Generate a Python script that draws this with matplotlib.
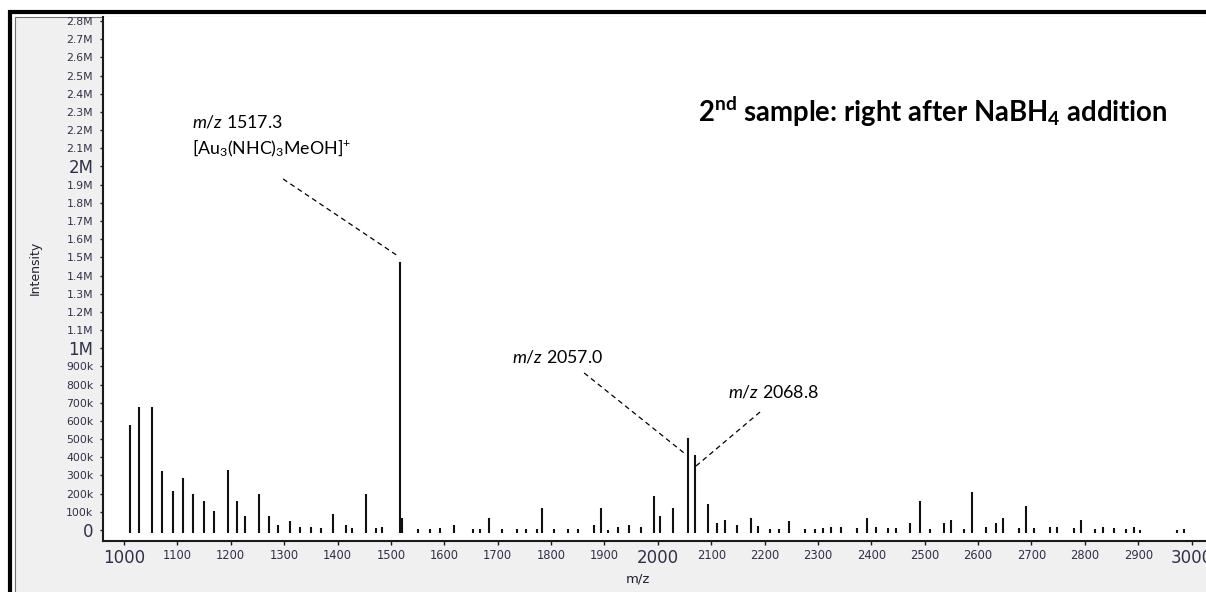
import matplotlib
matplotlib.use("Agg")
import matplotlib.pyplot as plt
from matplotlib.patches import Rectangle
from matplotlib.transforms import Bbox
import numpy as np

plt.rcParams['mathtext.fontset'] = 'custom'
plt.rcParams['mathtext.rm'] = 'Lato'
plt.rcParams['mathtext.it'] = 'Lato:italic'
plt.rcParams['mathtext.bf'] = 'Lato:bold'

# peak list: m/z and intensity (in thousands)
mz = [1011, 1027.5, 1053, 1072, 1092, 1110.5, 1130, 1150, 1169, 1195.5,
      1211, 1227, 1253, 1272, 1289, 1311.5, 1330, 1350, 1369.5, 1392,
      1415, 1428, 1454, 1473, 1483, 1517.3, 1521, 1551, 1573, 1592.5,
      1619, 1654, 1667, 1684, 1709, 1735.5, 1754, 1773, 1783.5, 1806,
      1831, 1851, 1880.5, 1894, 1906, 1926, 1946, 1968, 1993.5, 2003.5,
      2029, 2057.0, 2068.8, 2094.5, 2110, 2126.5, 2149, 2175, 2188, 2211,
      2226.5, 2246.5, 2275, 2294.5, 2310, 2324, 2343, 2372.5, 2392, 2408,
      2430.5, 2447, 2472.5, 2492, 2509.5, 2536.5, 2550, 2573, 2589, 2615,
      2634, 2647, 2676, 2689, 2705, 2734, 2748, 2780, 2793, 2818.5,
      2834.5, 2854, 2876.5, 2892.5, 2903, 2973, 2986.5]
intensity_k = [580, 675, 675, 322, 216, 285, 200, 161, 105, 332,
               161, 75, 200, 75, 30, 47, 19, 19, 9, 86,
               30, 9, 200, 9, 19, 1475, 64, 3, 3, 9,
               28, 3, 3, 64, 3, 3, 5, 3, 123, 3,
               3, 3, 28, 123, 2, 19, 28, 19, 189, 75,
               123, 505, 410, 143, 39, 57, 30, 66, 20, 3,
               3, 47, 3, 3, 9, 19, 19, 9, 66, 19,
               9, 9, 39, 161, 3, 39, 57, 3, 210, 19,
               39, 66, 9, 133, 9, 19, 19, 9, 57, 3,
               19, 9, 3, 19, 1, 2, 3]

yticks = np.arange(0, 2.85e6, 1e5)
xticks = np.arange(1000, 3001, 100)

def ylab(v):
    if v == 0:
        return "0"
    if v < 1e6:
        return "%dk" % round(v / 1e3)
    m = v / 1e6
    return "%dM" % round(m) if abs(m - round(m)) < 1e-6 else "%.1fM" % m

ylabels = [ylab(v) for v in yticks]
xlabels = [str(v) for v in xticks]
big_labels = ["0", "1M", "2M", "1000", "2000", "3000"]

W, H = 1206, 592
fig = plt.figure(figsize=(W / 100, H / 100), dpi=100)
fig.patch.set_facecolor("white")

# window frame, kept behind the axes
fig.patches.append(Rectangle((9.5 / W, -0.1), 1.2, 1 - 11.5 / H + 0.1,
                             transform=fig.transFigure, fill=False,
                             edgecolor="black", lw=3, zorder=-2))
fig.patches.append(Rectangle((15 / W, -0.1), 1.2, 1 - 17 / H + 0.1,
                             transform=fig.transFigure, facecolor="#f0f0f0",
                             edgecolor="#707070", lw=0.8, zorder=-1))

ax = fig.add_axes([103 / W, 51 / H, 1 - 103 / W + 0.01, (541 - 17) / H])
ax.set_facecolor("white")

inten = np.array(intensity_k) * 1e3
ax.vlines(mz, -16500, inten, colors="#111111", lw=1.5)

ax.set_xlim(960.7, 3049.5)
ax.set_ylim(-60500, 2.822e6)

for s in ["top", "right"]:
    ax.spines[s].set_visible(False)
for s in ["left", "bottom"]:
    ax.spines[s].set_linewidth(1.5)
    ax.spines[s].set_color("#1a1a1a")

lab_color = "#30304a"
ax.set_yticks(yticks)
ax.set_yticklabels(ylabels, fontsize=7.8, color=lab_color)
ax.set_xticks(xticks)
ax.set_xticklabels(xlabels, fontsize=8.3, color=lab_color)
ax.tick_params(axis="y", length=2, width=1, pad=5, colors="#1a1a1a", labelcolor=lab_color)
ax.tick_params(axis="x", length=3, width=1, pad=3, colors="#1a1a1a", labelcolor=lab_color)

clip = Bbox.from_extents(0, 0, W, H - 17)
for t in ax.get_yticklabels() + ax.get_xticklabels():
    if t.get_text() in big_labels:
        t.set_fontsize(12)
    t.set_clip_box(clip)
    t.set_clip_on(True)

fig.text(35 / W, 1 - 268 / H, "Intensity", rotation=90, fontsize=9,
         color="#202030", ha="center", va="center")
fig.text(638 / W, 1 - 579 / H, "m/z", fontsize=9.5, color="#202030",
         ha="center", va="center")

# peak labels with dashed leader lines
dash = dict(color="black", lw=0.9, ls=(0, (4, 3)))
ax.plot([1298, 1513.3], [1.931e6, 1.507e6], **dash)
ax.plot([1862, 2049], [864e3, 424e3], **dash)
ax.plot([2191.5, 2071.6], [649e3, 352e3], **dash)

fs = 12.8
ax.text(1127.4, 2.244e6, r"$\mathit{m/z}$ 1517.3", fontsize=fs,
        family="Lato", va="center", ha="left")
ax.text(1127.4, 2.101e6, r"[Au$_{3}$(NHC)$_{3}$MeOH]$^{+}$", fontsize=fs,
        family="Lato", va="center", ha="left")
ax.text(1727, 952e3, r"$\mathit{m/z}$ 2057.0", fontsize=fs,
        family="Lato", va="center", ha="left")
ax.text(2132, 759e3, r"$\mathit{m/z}$ 2068.8", fontsize=fs,
        family="Lato", va="center", ha="left")

ax.text(2076, 2.299e6, r"2$^{\mathbf{nd}}$ sample: right after NaBH$_{\mathbf{4}}$ addition",
        fontsize=19.8, family="Lato", weight="bold", va="center", ha="left")

fig.savefig("out.png", dpi=100, facecolor=fig.get_facecolor())
